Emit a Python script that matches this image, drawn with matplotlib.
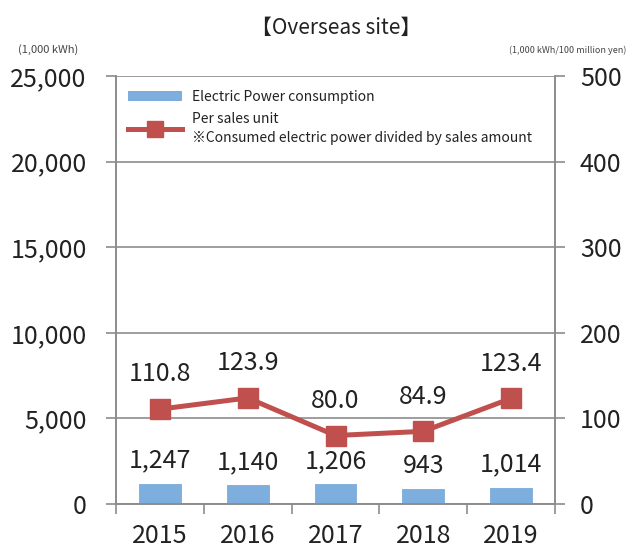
import matplotlib
matplotlib.use("Agg")
import matplotlib.pyplot as plt
from matplotlib.lines import Line2D
from matplotlib.patches import Patch
from matplotlib.ticker import FuncFormatter, FixedLocator

plt.rcParams["font.family"] = ["Noto Sans CJK JP", "DejaVu Sans"]

years = ["2015", "2016", "2017", "2018", "2019"]
consumption = [1247, 1140, 1206, 943, 1014]          # 1,000 kWh
per_sales = [110.8, 123.9, 80.0, 84.9, 123.4]         # 1,000 kWh / 100 million yen

BAR_COLOR = "#7DAEDD"
LINE_COLOR = "#C0504D"
GRID_COLOR = "#8C8C8C"
TEXT_COLOR = "#222222"
FS = 18

fig = plt.figure(figsize=(6.3, 5.49), dpi=100)
ax = fig.add_axes([116 / 630, 45 / 549, 439 / 630, 428 / 549])
ax2 = ax.twinx()

x = list(range(len(years)))
ax.bar(x, consumption, width=0.5, color=BAR_COLOR, edgecolor="white", linewidth=0.8, zorder=2)
ax2.plot(x, per_sales, color=LINE_COLOR, lw=3.6, marker="s", markersize=14, zorder=3)

ax.set_xlim(-0.5, len(years) - 0.5)
ax.set_ylim(0, 25000)
ax2.set_ylim(0, 500)

# y axes
ax.set_yticks(range(0, 25001, 5000))
ax.yaxis.set_major_formatter(FuncFormatter(lambda v, _: f"{int(v):,}"))
ax2.set_yticks(range(0, 501, 100))
ax.yaxis.grid(True, color=GRID_COLOR, lw=1.2, zorder=0)
ax.set_axisbelow(True)

# x axis: boundary ticks, labels in the middle
ax.xaxis.set_major_locator(FixedLocator([i - 0.5 for i in range(len(years) + 1)]))
ax.xaxis.set_major_formatter(FuncFormatter(lambda v, _: ""))
ax.xaxis.set_minor_locator(FixedLocator(x))
ax.set_xticklabels(years, minor=True)
ax.tick_params(axis="x", which="major", length=7, width=1.2, color=GRID_COLOR, direction="out")
ax.tick_params(axis="x", which="minor", length=0, pad=14, labelsize=FS, labelcolor=TEXT_COLOR)
ax.tick_params(axis="y", length=7, width=1.2, color=GRID_COLOR, labelsize=FS,
               labelcolor=TEXT_COLOR, pad=14)
ax2.tick_params(axis="y", length=7, width=1.2, color=GRID_COLOR, labelsize=FS,
                labelcolor=TEXT_COLOR, pad=11)

for a in (ax, ax2):
    a.spines["top"].set_visible(False)
    for s in ("left", "right", "bottom"):
        a.spines[s].set_color(GRID_COLOR)
        a.spines[s].set_linewidth(1.2)

# data labels
for xi, v in zip(x, consumption):
    ax.annotate(f"{v:,}", (xi, v), xytext=(0, 16), textcoords="offset points",
                ha="center", va="center", fontsize=FS, color=TEXT_COLOR)
for xi, v in zip(x, per_sales):
    ax2.annotate(f"{v:.1f}", (xi, v), xytext=(0, 25), textcoords="offset points",
                 ha="center", va="center", fontsize=FS, color=TEXT_COLOR)

# legend
handles = [
    Patch(facecolor=BAR_COLOR, edgecolor="none"),
    Line2D([], [], color=LINE_COLOR, lw=3.6, marker="s", markersize=11),
]
labels = ["Electric Power consumption",
          "Per sales unit\n※Consumed electric power divided by sales amount"]
leg = ax2.legend(handles, labels, loc="upper left", bbox_to_anchor=(128 / 630, 1 - 90 / 549),
                 bbox_transform=fig.transFigure, frameon=False, fontsize=10, borderpad=0,
                 borderaxespad=0, handlelength=3.9, handleheight=0.8, handletextpad=0.7,
                 labelspacing=0.6, labelcolor=TEXT_COLOR)
for t in leg.get_texts():
    t.set_linespacing(1.45)

# titles and unit labels
fig.text(336 / 630, 1 - 28 / 549, "【Overseas site】", ha="center", va="center",
         fontsize=15, color=TEXT_COLOR)
fig.text(48 / 630, 1 - 50 / 549, "(1,000 kWh)", ha="center", va="center",
         fontsize=8, color="#444444")
fig.text(568 / 630, 1 - 50 / 549, "(1,000 kWh/100 million yen)", ha="center", va="center",
         fontsize=6.5, color="#444444")

fig.savefig("out.png", dpi=100)
